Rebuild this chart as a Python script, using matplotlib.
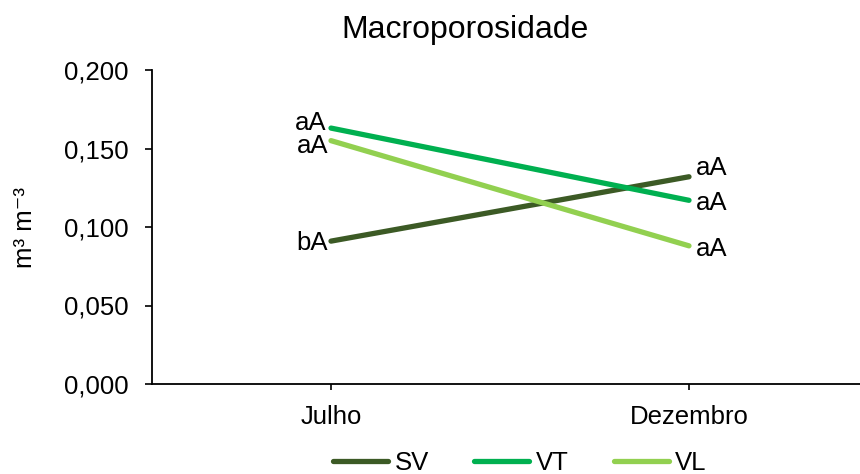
import matplotlib
matplotlib.use("Agg")
import matplotlib.pyplot as plt
from matplotlib.ticker import FuncFormatter

plt.rcParams['font.family'] = ['Liberation Sans', 'DejaVu Sans']

categories = ["Julho", "Dezembro"]
series_names = ["SV", "VT", "VL"]
sv = [0.091, 0.132]
vt = [0.163, 0.117]
vl = [0.155, 0.088]
sv_labels = ["bA", "aA"]
vt_labels = ["aA", "aA"]
vl_labels = ["aA", "aA"]
yticks = [0.0, 0.05, 0.10, 0.15, 0.20]

colors = ["#3c5a25", "#00b050", "#92d050"]

FS = 18.5
W, H = 860, 474
fig = plt.figure(figsize=(W / 100, H / 100), dpi=100)
ax = fig.add_axes([152 / W, 1 - 384 / H, (860 - 152) / W, (384 - 70) / H])

x = list(range(len(categories)))
data = [sv, vt, vl]
labels = [sv_labels, vt_labels, vl_labels]
for name, vals, col in zip(series_names, data, colors):
    ax.plot(x, vals, color=col, lw=3.8, solid_capstyle='round', label=name)

# label offsets in points (dx, dy) for Julho (left) and Dezembro (right)
offs = {
    0: [(-2, -1), (-3, 4), (-2, -4)],
    1: [(5, 6), (5, -2), (5, -2)],
}
for si, (vals, labs) in enumerate(zip(data, labels)):
    for xi in range(2):
        dx, dy = offs[xi][si]
        ax.annotate(labs[xi], (x[xi], vals[xi]), xytext=(dx, dy),
                    textcoords='offset points',
                    ha='right' if xi == 0 else 'left', va='center',
                    fontsize=FS)

ax.set_xlim(-0.5, -0.5 + (860 - 152) / 358)
ax.set_ylim(0, 0.2)
ax.set_xticks(x)
ax.set_xticklabels(categories, fontsize=FS)
ax.set_yticks(yticks)
ax.yaxis.set_major_formatter(FuncFormatter(lambda v, p: f"{v:.3f}".replace('.', ',')))
ax.tick_params(axis='y', labelsize=FS, length=5, width=1.2, direction='out', pad=12)
ax.tick_params(axis='x', labelsize=FS, length=4, width=1.2, direction='out', pad=11)
for s in ['top', 'right']:
    ax.spines[s].set_visible(False)
for s in ['left', 'bottom']:
    ax.spines[s].set_linewidth(1.3)

ax.set_ylabel("m\u00b3 m\u207b\u00b3", fontsize=FS)
ax.yaxis.set_label_coords((25 - 152) / (860 - 152), 0.5)
ax.yaxis.label.set_va('center')

fig.text(465 / W, 1 - 30 / H, "Macroporosidade", ha='center', va='center', fontsize=23)

fig.legend(loc='center', bbox_to_anchor=(520 / W, 1 - 463 / H), ncol=3, frameon=False,
           fontsize=FS, handlelength=2.15, handletextpad=0.25, columnspacing=1.75)

fig.savefig("out.png", dpi=100)
